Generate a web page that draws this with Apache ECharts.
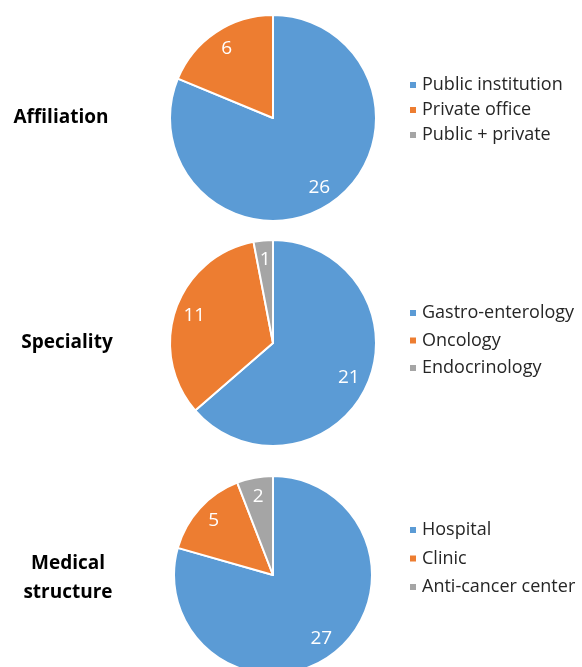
<!DOCTYPE html>
<html>
<head>
<meta charset="utf-8">
<script src="https://cdn.jsdelivr.net/npm/echarts@6/dist/echarts.min.js"></script>
<style>
html,body{margin:0;padding:0;background:#fff;}
#chart{width:582px;height:667px;}
</style>
</head>
<body>
<div id="chart"></div>
<script>
// Data
const affiliationNames = ['Public institution', 'Private office', 'Public + private'];
const affiliationValues = [26, 6, 0];
const specialityNames = ['Gastro-enterology', 'Oncology', 'Endocrinology'];
const specialityValues = [21, 11, 1];
const structureNames = ['Hospital', 'Clinic', 'Anti-cancer center'];
const structureValues = [27, 5, 2];
const groupTitles = ['Affiliation', 'Speciality', 'Medical\nstructure'];

const colors = ['#5B9BD5', '#ED7D31', '#A5A5A5'];
const FONT = '"Open Sans", sans-serif';

const groups = [
  { names: affiliationNames, values: affiliationValues, center: [273, 118], r: 103, legendTop: 76, gap: 7, titleX: 61, titleY: 118 },
  { names: specialityNames, values: specialityValues, center: [273, 343], r: 103, legendTop: 304, gap: 9.5, titleX: 67, titleY: 343 },
  { names: structureNames, values: structureValues, center: [273, 575], r: 99, legendTop: 521, gap: 10.5, titleX: 68, titleY: 578 }
];

function makeData(g) {
  return g.names.map((n, i) => ({ name: n, value: g.values[i], itemStyle: { color: colors[i] } }));
}

const series = [];
const legends = [];
groups.forEach((g, gi) => {
  series.push({
    type: 'pie',
    center: g.center,
    radius: [0, g.r],
    startAngle: 90,
    clockwise: true,
    silent: true,
    animation: false,
    avoidLabelOverlap: false,
    label: { show: false },
    labelLine: { show: false },
    itemStyle: { borderColor: '#ffffff', borderWidth: 2 },
    data: makeData(g)
  });
});
groups.forEach((g, gi) => {
  // transparent ring used only to place the value labels at ~0.78 of the radius
  series.push({
    type: 'pie',
    center: g.center,
    radius: [g.r * 0.56, g.r],
    startAngle: 90,
    clockwise: true,
    silent: true,
    animation: false,
    avoidLabelOverlap: false,
    itemStyle: { color: 'rgba(0,0,0,0)', borderWidth: 0 },
    label: {
      show: true,
      position: 'inside',
      color: '#ffffff',
      fontFamily: FONT,
      fontSize: 19,
      formatter: p => (p.value === 0 ? '' : String(p.value))
    },
    labelLine: { show: false },
    data: g.names.map((n, i) => ({ name: n, value: g.values[i] }))
  });
  legends.push({
    orient: 'vertical',
    left: 408,
    top: g.legendTop,
    padding: 0,
    itemGap: g.gap,
    itemWidth: 8,
    itemHeight: 8,
    icon: 'rect',
    selectedMode: false,
    data: g.names.map((n, i) => ({ name: n, itemStyle: { color: colors[i] } })),
    textStyle: { fontFamily: FONT, fontSize: 18, color: '#262626', lineHeight: 18 }
  });
});

const graphics = groups.map((g, gi) => ({
  type: 'text',
  x: g.titleX,
  y: g.titleY,
  style: {
    text: groupTitles[gi],
    font: 'bold 19px ' + FONT,
    fill: '#000000',
    align: 'center',
    verticalAlign: 'middle',
    lineHeight: 29
  }
}));

const chart = echarts.init(document.getElementById('chart'));
chart.setOption({
  backgroundColor: '#ffffff',
  animation: false,
  legend: legends,
  graphic: graphics,
  series: series
});
</script>
</body>
</html>
